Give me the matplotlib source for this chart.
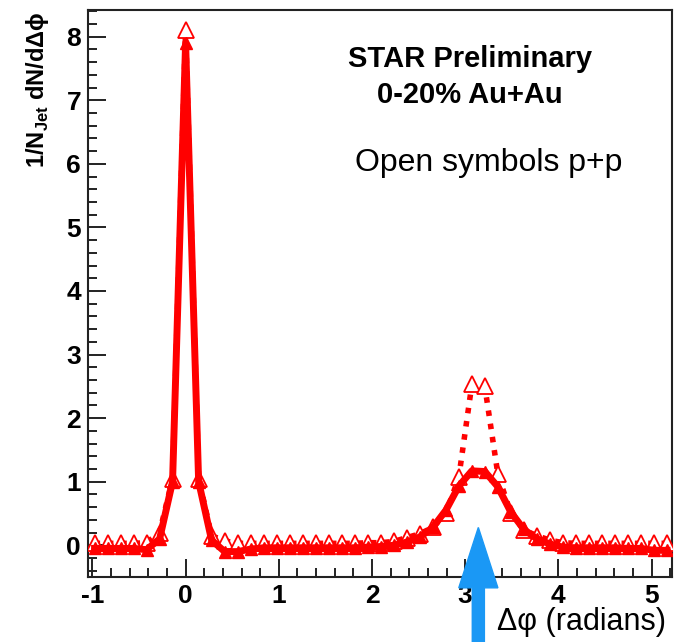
import numpy as np
import matplotlib
matplotlib.use('Agg')
import matplotlib.pyplot as plt
from matplotlib.ticker import MultipleLocator

plt.rcParams['font.family'] = ['Liberation Sans', 'DejaVu Sans']
plt.rcParams['mathtext.fontset'] = 'custom'
plt.rcParams['mathtext.rm'] = 'Liberation Sans:bold'
plt.rcParams['mathtext.bf'] = 'Liberation Sans:bold'
plt.rcParams['axes.unicode_minus'] = False

# bin centres (45 bins over -pi/3 .. 5pi/3)
dphi = [-0.977, -0.838, -0.698, -0.559, -0.419, -0.279, -0.140, 0.000, 0.140,
        0.279, 0.419, 0.559, 0.698, 0.838, 0.977, 1.117, 1.257, 1.396, 1.536,
        1.676, 1.815, 1.955, 2.094, 2.234, 2.374, 2.513, 2.653, 2.793, 2.932,
        3.072, 3.211, 3.351, 3.491, 3.630, 3.770, 3.910, 4.049, 4.189, 4.328,
        4.468, 4.608, 4.747, 4.887, 5.027, 5.166]

# 0-20% Au+Au (filled, solid)
auau = [-0.05, -0.05, -0.05, -0.05, -0.07, 0.10, 1.00, 7.90, 1.00,
        0.08, -0.10, -0.10, -0.06, -0.04, -0.04, -0.04, -0.04, -0.04, -0.04,
        -0.04, -0.04, -0.03, -0.02, 0.00, 0.05, 0.13, 0.28, 0.55, 0.93,
        1.17, 1.16, 0.92, 0.52, 0.25, 0.10, 0.02, -0.03, -0.04, -0.04,
        -0.04, -0.04, -0.05, -0.05, -0.08, -0.08]

# p+p (open, dashed)
pp = [0.03, 0.03, 0.03, 0.03, 0.04, 0.20, 1.05, 8.10, 1.05,
      0.15, 0.07, 0.03, 0.03, 0.03, 0.03, 0.03, 0.03, 0.03, 0.03,
      0.03, 0.03, 0.04, 0.04, 0.06, 0.12, 0.18, 0.28, 0.50, 1.07,
      2.53, 2.50, 1.12, 0.50, 0.24, 0.15, 0.08, 0.04, 0.03, 0.03,
      0.03, 0.03, 0.03, 0.03, 0.03, 0.03]

red = '#ff0000'

fig = plt.figure(figsize=(6.86, 6.42), dpi=100)
ax = fig.add_axes([0.1283, 0.1012, 0.8513, 0.8832])

ax.plot(dphi, pp, color=red, lw=4, ls=(0, (1.0, 1.4)), marker='^',
        ms=11, mfc='white', mec=red, mew=1.3, zorder=3)
ax.plot(dphi, auau, color=red, lw=5, marker='^', ms=9, mfc=red, mec=red,
        zorder=4)

ax.set_xlim(-np.pi / 3, 5.22)
ax.set_ylim(-0.5, 8.42)

ax.xaxis.set_major_locator(MultipleLocator(1))
ax.xaxis.set_minor_locator(MultipleLocator(0.2))
ax.yaxis.set_major_locator(MultipleLocator(1))
ax.yaxis.set_minor_locator(MultipleLocator(0.2))
ax.tick_params(which='both', direction='in', top=False, right=False,
               width=1.4, color='#222222')
ax.tick_params(which='major', length=13, pad=5, labelsize=19)
ax.tick_params(which='minor', length=6.5)
for lab in ax.get_xticklabels() + ax.get_yticklabels():
    lab.set_fontweight('bold')
for sp in ax.spines.values():
    sp.set_linewidth(1.5)
    sp.set_color('#222222')

fig.text(38 / 686, 1 - 90 / 642, r'1/N$_{\mathbf{Jet}}$ dN/dΔϕ', rotation=90,
         ha='center', va='center', fontsize=17, fontweight='bold')

ax.text(0.654, 0.913, 'STAR Preliminary', transform=ax.transAxes,
        ha='center', va='center', fontsize=21, fontweight='bold')
ax.text(0.654, 0.851, '0-20% Au+Au', transform=ax.transAxes,
        ha='center', va='center', fontsize=21, fontweight='bold')
ax.text(0.457, 0.731, 'Open symbols p+p', transform=ax.transAxes,
        ha='left', va='center', fontsize=23)

fig.text(497 / 686, 1 - 622 / 642, 'Δφ (radians)', ha='left', va='center',
         fontsize=22)

# blue arrow marking delta phi = pi
ax.arrow(np.pi, -1.6, 0, 1.88, width=0.13, head_width=0.42, head_length=0.95,
         length_includes_head=True, color='#1a98f5', clip_on=False, zorder=10)

fig.savefig('out.png', dpi=100)
